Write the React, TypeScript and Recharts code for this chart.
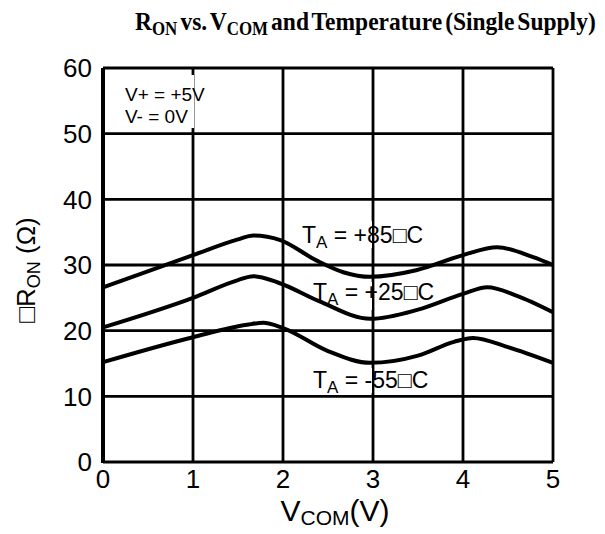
import React from "react";
import { CartesianGrid, Line, LineChart, XAxis, YAxis } from "recharts";

// axis ticks
const vcomTicks = [0, 1, 2, 3, 4, 5];
const ronTicks = [0, 10, 20, 30, 40, 50, 60];

// T = +85 C
const vcom85 = [0, 1, 1.5, 1.67, 1.97, 2.37, 2.67, 2.97, 3.48, 4.0, 4.38, 4.78, 5];
const ron85 = [26.6, 31.5, 33.9, 34.5, 33.8, 30.7, 28.9, 28.2, 29.2, 31.5, 32.7, 31.2, 30];

// T = +25 C
const vcom25 = [0, 1, 1.5, 1.67, 1.95, 2.4, 2.97, 3.5, 4.0, 4.27, 4.6, 5];
const ron25 = [20.5, 25, 27.7, 28.3, 27.3, 24.5, 21.8, 23.2, 25.6, 26.6, 25.3, 22.8];

// T = -55 C
const vcomM55 = [0, 1, 1.6, 1.78, 2.0, 2.5, 2.97, 3.5, 3.9, 4.11, 4.5, 5];
const ronM55 = [15.2, 19, 20.9, 21.2, 20.4, 16.9, 15.1, 16.2, 18.3, 18.9, 17.5, 15.1];

const zip = (xs: number[], ys: number[]) => xs.map((v, i) => ({ v, r: ys[i] }));

const sans = "'Liberation Sans', Arial, sans-serif";
const tickStyle = { fontSize: 26, fill: "#000", fontFamily: sans };

export default function App() {
  return (
    <div style={{ position: "absolute", left: 0, top: 0, width: 605, height: 534, background: "#fff" }}>
      <LineChart width={605} height={534} margin={{ top: 68, right: 52, left: 60, bottom: 32 }}>
        <CartesianGrid stroke="#000" strokeWidth={2.8} strokeOpacity={1} />
        <XAxis
          type="number"
          dataKey="v"
          domain={[0, 5]}
          ticks={vcomTicks}
          height={40}
          tickSize={0}
          tickMargin={8}
          axisLine={false}
          tick={tickStyle}
          allowDuplicatedCategory={false}
        />
        <YAxis
          type="number"
          domain={[0, 60]}
          ticks={ronTicks}
          width={43}
          tickSize={0}
          tickMargin={11}
          axisLine={false}
          tick={tickStyle}
        />
        <Line data={zip(vcom85, ron85)} dataKey="r" type="monotone" stroke="#000" strokeWidth={4} dot={false} isAnimationActive={false} />
        <Line data={zip(vcom25, ron25)} dataKey="r" type="monotone" stroke="#000" strokeWidth={4} dot={false} isAnimationActive={false} />
        <Line data={zip(vcomM55, ronM55)} dataKey="r" type="monotone" stroke="#000" strokeWidth={4} dot={false} isAnimationActive={false} />
      </LineChart>
      <svg width={605} height={534} style={{ position: "absolute", left: 0, top: 0 }}>
        {/* gaps in grid lines behind the labels */}
        <rect x={188} y={75} width={6} height={53} fill="#fff" />
        <rect x={366} y={221} width={6} height={27} fill="#fff" />
        <rect x={366} y={282} width={6} height={28} fill="#fff" />
        <rect x={366} y={368} width={6} height={25} fill="#fff" />
        <rect x={101} y={68} width={4} height={395} fill="#000" />
        <text
          transform="translate(135,30) scale(0.94,1)"
          fontFamily="'Liberation Serif', 'Times New Roman', serif"
          fontWeight="bold"
          fontSize={25}
          wordSpacing={-3}
          fill="#000"
        >
          R<tspan fontSize={18} dy={5}>ON</tspan>
          <tspan dy={-5}> vs. V</tspan>
          <tspan fontSize={18} dy={5}>COM</tspan>
          <tspan dy={-5}> and Temperature (Single Supply)</tspan>
        </text>
        <g fontFamily={sans} fill="#000">
          <text x={125} y={101} fontSize={19}>V+ = +5V</text>
          <text x={125} y={123} fontSize={19}>V- = 0V</text>
          <text x={302} y={243} fontSize={23}>
            T<tspan fontSize={17} dy={5}>A</tspan>
            <tspan dy={-5}> = +85□C</tspan>
          </text>
          <text x={313} y={300} fontSize={23}>
            T<tspan fontSize={17} dy={5}>A</tspan>
            <tspan dy={-5}> = +25□C</tspan>
          </text>
          <text x={313} y={388} fontSize={23}>
            T<tspan fontSize={17} dy={5}>A</tspan>
            <tspan dy={-5}> = -55□C</tspan>
          </text>
          <text x={335} y={521} fontSize={30} textAnchor="middle">
            V<tspan fontSize={21} dy={4}>COM</tspan>
            <tspan dy={-4}>(V)</tspan>
          </text>
          <text transform="translate(35,270) rotate(-90)" fontSize={26} textAnchor="middle" fill="#000">
            □R<tspan fontSize={18} dy={5}>ON</tspan>
            <tspan dy={-5}> (Ω)</tspan>
          </text>
        </g>
      </svg>
    </div>
  );
}
